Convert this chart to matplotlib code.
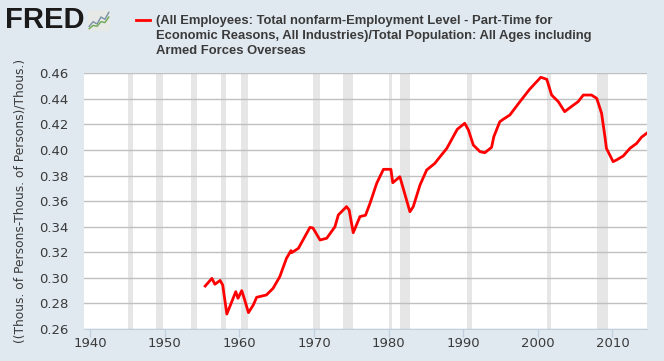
import matplotlib.pyplot as plt
import numpy as np

# Series (year fraction, ratio)
years = [1955.4, 1956.3, 1956.7, 1957.4, 1957.75, 1958.3, 1958.7, 1959.5, 1959.8,
         1960.3, 1960.7, 1961.2, 1961.85, 1962.3, 1963.6, 1964.5, 1965.4, 1966.3,
         1966.9, 1967.0, 1967.9, 1969.45, 1969.85, 1970.8, 1971.7, 1972.8, 1973.25,
         1974.35, 1974.7, 1975.25, 1976.15, 1976.9, 1977.5, 1978.4, 1979.3, 1980.3,
         1980.55, 1981.5, 1982.4, 1982.85, 1983.3, 1984.2, 1985.1, 1986.2, 1986.65,
         1987.8, 1989.2, 1990.2, 1990.7, 1991.35, 1992.25, 1992.9, 1993.8, 1994.1,
         1994.9, 1995.35, 1996.25, 1997.6, 1998.9, 2000.4, 2001.2, 2001.85, 2002.75,
         2003.6, 2004.3, 2005.4, 2006.1, 2007.2, 2007.9, 2008.55, 2009.0, 2009.2,
         2010.1, 2010.55, 2011.45, 2012.35, 2013.25, 2013.9, 2014.6]
values = [0.2936, 0.2996, 0.2950, 0.2980, 0.2944, 0.2717, 0.2775, 0.2892, 0.2840,
          0.2900, 0.2827, 0.2728, 0.2788, 0.2848, 0.2866, 0.2918, 0.3009, 0.3153,
          0.3213, 0.3197, 0.3231, 0.3395, 0.3390, 0.3296, 0.3310, 0.3400, 0.3492,
          0.3557, 0.3531, 0.3353, 0.3479, 0.3490, 0.3583, 0.3740, 0.3849, 0.3849,
          0.3744, 0.3791, 0.3609, 0.3517, 0.3557, 0.3726, 0.3844, 0.3896, 0.3930,
          0.4013, 0.4162, 0.4209, 0.4156, 0.4039, 0.3987, 0.3979, 0.4021, 0.4104,
          0.4221, 0.4240, 0.4274, 0.4378, 0.4475, 0.4569, 0.4553, 0.4430, 0.4378,
          0.4300, 0.4331, 0.4378, 0.4430, 0.4430, 0.4404, 0.4287, 0.4104, 0.4013,
          0.3909, 0.3922, 0.3953, 0.4013, 0.4052, 0.4100, 0.4131]

# NBER recessions (start, end)
rec_start = [1945.08, 1948.83, 1953.5, 1957.58, 1960.25, 1969.92, 1973.83,
             1980.0, 1981.5, 1990.5, 2001.17, 2007.92]
rec_end = [1945.75, 1949.75, 1954.33, 1958.25, 1961.08, 1970.83, 1975.17,
           1980.5, 1982.83, 1991.17, 2001.83, 2009.42]

x_ticks = [1940, 1950, 1960, 1970, 1980, 1990, 2000, 2010]
y_ticks = [0.26, 0.28, 0.30, 0.32, 0.34, 0.36, 0.38, 0.40, 0.42, 0.44, 0.46]

legend_text = ("(All Employees: Total nonfarm-Employment Level - Part-Time for\n"
               "Economic Reasons, All Industries)/Total Population: All Ages including\n"
               "Armed Forces Overseas")

bg = '#e1e9f0'
text_col = '#3a3a3a'

fig = plt.figure(figsize=(6.64, 3.61), dpi=100, facecolor=bg)
ax = fig.add_axes([84 / 664, 1 - 329 / 361, (646.7 - 84) / 664, (329 - 73.3) / 361])
ax.set_facecolor('white')

# Recession shading
for s, e in zip(rec_start, rec_end):
    ax.axvspan(s, e, color='#e6e6e6', lw=0, zorder=1)

# Horizontal grid
for yv in y_ticks:
    ax.axhline(yv, color='#c0c0c0', lw=1, zorder=2)

ax.plot(years, values, color='#ff0000', lw=2, zorder=3)

ax.set_xlim(1939.15, 2014.6)
ax.set_ylim(0.26, 0.46)
ax.set_xticks(x_ticks)
ax.set_yticks(y_ticks)
ax.set_yticklabels(['%.2f' % v for v in y_ticks])

for side in ['top', 'right', 'left']:
    ax.spines[side].set_visible(False)
ax.spines['bottom'].set_color('#c0d0e0')
ax.tick_params(axis='x', colors='#c0d0e0', length=6, width=1, labelcolor=text_col,
               labelsize=9.5, pad=0)
ax.tick_params(axis='y', length=0, labelcolor=text_col, labelsize=9.5, pad=11)

ax.set_ylabel('((Thous. of Persons-Thous. of Persons)/Thous.)', color=text_col,
              fontsize=8.8, labelpad=9)

# Legend / title
fig.add_artist(plt.Line2D([135.6 / 664, 150.4 / 664], [1 - 20 / 361, 1 - 20 / 361],
                          color='#ff0000', lw=2))
fig.text(156 / 664, 1 - 15 / 361, legend_text, ha='left', va='top', fontsize=9.4,
         fontweight='bold', color=text_col, linespacing=1.32,
         family=['Liberation Sans', 'DejaVu Sans'])

# FRED logo
fig.text(5 / 664, 1 - 20 / 361, 'FRED', ha='left', va='center', fontsize=21,
         fontweight='black', color='#1a1a1a', family=['Liberation Sans', 'DejaVu Sans'])
logo = fig.add_axes([88 / 664, 1 - 31 / 361, 22 / 664, 21 / 361])
logo.set_facecolor('#e6e9e6')
logo_x = [0, 1, 2, 3, 4, 5]
logo_a = [1, 2, 1.5, 3, 2.5, 4]
logo_b = [0.5, 1.2, 1.0, 2.0, 1.8, 3.0]
logo.plot(logo_x, logo_a, color='#7a8fa6', lw=1)
logo.plot(logo_x, logo_b, color='#6aa84f', lw=1)
logo.set_xlim(-0.3, 5.3)
logo.set_ylim(0, 4.5)
logo.set_xticks([])
logo.set_yticks([])
for sp in logo.spines.values():
    sp.set_visible(False)

fig.savefig('out.png', dpi=100, facecolor=bg)
